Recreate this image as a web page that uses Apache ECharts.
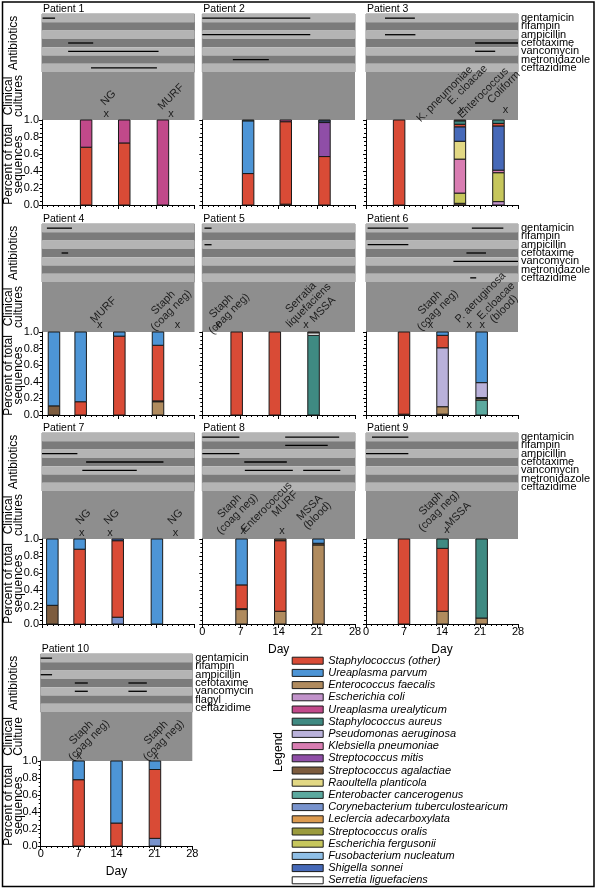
<!DOCTYPE html>
<html><head><meta charset="utf-8">
<script src="https://cdn.jsdelivr.net/npm/echarts@6/dist/echarts.min.js"></script>
<style>html,body{margin:0;padding:0;background:#fff}#c{width:598px;height:890px}</style>
</head><body><div id="c"></div><script>
// ---------- DATA ----------
const species = ['Staphylococcus (other)','Ureaplasma parvum','Enterococcus faecalis','Escherichia coli','Ureaplasma urealyticum','Staphylococcus aureus','Pseudomonas aeruginosa','Klebsiella pneumoniae','Streptococcus mitis','Streptococcus agalactiae','Raoultella planticola','Enterobacter cancerogenus','Corynebacterium tuberculostearicum','Leclercia adecarboxylata','Streptococcus oralis','Escherichia fergusonii','Fusobacterium nucleatum','Shigella sonnei','Serretia liguefaciens'];
const speciesColors = ['#d94b36','#4d95d6','#b08b5e','#c293cb','#c1498a','#3f8a82','#b9b1da','#d97db2','#8f4ea7','#7d5c3e','#e2d884','#5ba99f','#7893cd','#dc9a4f','#9b9b3d','#c6c65c','#8fbfe7','#4669b8','#ffffff'];
const antibiotics = ['gentamicin','rifampin','ampicillin','cefotaxime','vancomycin','metronidazole','ceftazidime'];
const antibiotics10 = ['gentamicin','rifampin','ampicillin','cefotaxime','vancomycin','flagyl','ceftazidime'];
const dayTicks = [0,7,14,21,28];
const fracTicks = [0,0.2,0.4,0.6,0.8,1.0];

// antibiotic courses: [antibiotic row, start day, end day]
const p1Abx = [[0,0.1,2.4],[3,4.8,9.4],[4,4.8,21.4],[6,9.0,21.1]];
const p2Abx = [[0,0,19.8],[2,0,19.8],[5,5.6,12.2]];
const p3Abx = [[0,3.5,9.0],[2,3.5,9.1],[3,20.1,28],[4,20.1,23.8]];
const p4Abx = [[0,0.9,5.5],[3,3.6,4.8]];
const p5Abx = [[0,0.4,1.7],[2,0.4,1.7]];
const p6Abx = [[0,0.3,7.8],[0,19.5,25.3],[2,0.3,7.8],[3,18.5,22.1],[4,16.1,28],[6,19.2,20.3]];
const p7Abx = [[2,0,6.5],[3,8.1,22.3],[4,7.4,17.4]];
const p8Abx = [[0,0,6.8],[0,15.2,25.1],[1,15.2,23.0],[2,0,6.8],[3,7.7,15.5],[4,7.8,16.6],[4,18.5,25.3]];
const p9Abx = [[0,1.1,7.8],[2,0,7.8]];
const p10Abx = [[0,0,2.1],[2,0,2.1],[3,6.3,8.7],[3,16.2,19.6],[4,6.3,8.7],[4,16.2,19.6]];

// clinical cultures: days of culture (x marks) and result texts
const p1CultureDays = [11.8,23.7];  const p1CultureText = ['NG','MURF'];
const p2CultureDays = [];           const p2CultureText = [];
const p3CultureDays = [17.6,25.7];  const p3CultureText = ['K. pneumoniae','E. cloacae','Enterococcus','Coliform'];
const p4CultureDays = [10.6,24.9];  const p4CultureText = ['MURF','Staph\n(coag neg)'];
const p5CultureDays = [2.9,19.0];   const p5CultureText = ['Staph\n(coag neg)','Serratia\nliquefaciens','MSSA'];
const p6CultureDays = [11.9,19.0,21.4]; const p6CultureText = ['Staph\n(coag neg)','P. aeruginosa','E.cloacae\n(blood)'];
const p7CultureDays = [7.3,12.5,24.5]; const p7CultureText = ['NG','NG','NG'];
const p8CultureDays = [7.5,14.6];   const p8CultureText = ['Staph\n(coag neg)','Enterococcus','MURF','MSSA\n(blood)'];
const p9CultureDays = [14.9];       const p9CultureText = ['Staph\n(coag neg)','MSSA'];
const p10CultureDays = [7.1,21.3];  const p10CultureText = ['Staph\n(coag neg)','Staph\n(coag neg)'];

// samples: [day, [[species index, fraction], ...] listed bottom to top]
const p1Bars = [[8.1,[[0,0.68],[4,0.32]]],[15.1,[[0,0.73],[4,0.27]]],[22.2,[[4,1.0]]]];
const p2Bars = [[8.4,[[0,0.37],[1,0.62],[5,0.01]]],[15.3,[[9,0.01],[0,0.97],[4,0.02]]],[22.4,[[0,0.57],[8,0.40],[17,0.02],[1,0.01]]]];
const p3Bars = [[6.1,[[0,1.0]]],[17.3,[[9,0.02],[15,0.12],[7,0.40],[10,0.21],[17,0.17],[0,0.03],[5,0.04],[9,0.01]]],[24.4,[[3,0.04],[15,0.34],[7,0.03],[17,0.52],[0,0.03],[5,0.04]]]];
const p4Bars = [[2.2,[[9,0.11],[1,0.89]]],[7.1,[[0,0.16],[1,0.84]]],[14.2,[[0,0.95],[1,0.05]]],[21.3,[[2,0.16],[9,0.01],[0,0.67],[1,0.16]]]];
const p5Bars = [[6.3,[[0,1.0]]],[13.3,[[0,1.0]]],[20.4,[[5,0.96],[18,0.03],[9,0.01]]]];
const p6Bars = [[7.0,[[9,0.01],[0,0.99]]],[14.1,[[9,0.01],[2,0.09],[6,0.71],[0,0.15],[1,0.04]]],[21.3,[[11,0.18],[2,0.02],[9,0.01],[6,0.18],[1,0.61]]]];
const p7Bars = [[1.9,[[9,0.22],[1,0.78]]],[6.9,[[0,0.88],[1,0.12]]],[13.9,[[12,0.08],[0,0.90],[17,0.02]]],[21.1,[[1,1.0]]]];
const p8Bars = [[7.2,[[2,0.17],[14,0.01],[0,0.28],[1,0.54]]],[14.3,[[2,0.15],[0,0.83],[9,0.02]]],[21.3,[[2,0.93],[9,0.02],[1,0.05]]]];
const p9Bars = [[7.0,[[0,1.0]]],[14.1,[[2,0.15],[0,0.74],[5,0.11]]],[21.3,[[2,0.07],[5,0.93]]]];
const p10Bars = [[7.0,[[0,0.78],[1,0.22]]],[14.0,[[0,0.27],[1,0.73]]],[21.1,[[12,0.09],[0,0.81],[1,0.10]]]];

// ---------- LAYOUT (annotation placement, not data) ----------
const p1TextAt = [[12.2,0.46],[23.7,0.48]];
const p2TextAt = [];
const p3TextAt = [[14.5,0.54],[18.7,0.73],[21.6,0.56],[25.4,0.68]];
const p4TextAt = [[11.3,0.44],[23.0,0.51]];
const p5TextAt = [[4.2,0.44],[18.8,0.61],[22.1,0.45]];
const p6TextAt = [[12.5,0.51],[21.1,0.69],[24.7,0.54]];
const p7TextAt = [[7.6,0.46],[12.8,0.46],[24.5,0.46]];
const p8TextAt = [[5.7,0.6],[11.8,0.66],[15.2,0.73],[20.4,0.57]];
const p9TextAt = [[12.7,0.66],[17.0,0.5]];
const p10TextAt = [[8.2,0.5],[22.0,0.5]];

const FONT = '"Liberation Sans", Arial, sans-serif';
const BAR_W = 11.5;
const colX = [[42,194.5],[202.3,355],[366,518]];
const rowY = [[14,72,120,205],[224,282,332,415],[433,491,539,624],[654,712,761,846]];

const patients = [
 {title:'Patient 1',col:0,row:0,abx:p1Abx,cd:p1CultureDays,ct:p1CultureText,at:p1TextAt,mk:0.125,bars:p1Bars},
 {title:'Patient 2',col:1,row:0,abx:p2Abx,cd:p2CultureDays,ct:p2CultureText,at:p2TextAt,mk:0.13,bars:p2Bars},
 {title:'Patient 3',col:2,row:0,abx:p3Abx,cd:p3CultureDays,ct:p3CultureText,at:p3TextAt,mk:0.21,bars:p3Bars},
 {title:'Patient 4',col:0,row:1,abx:p4Abx,cd:p4CultureDays,ct:p4CultureText,at:p4TextAt,mk:0.14,bars:p4Bars},
 {title:'Patient 5',col:1,row:1,abx:p5Abx,cd:p5CultureDays,ct:p5CultureText,at:p5TextAt,mk:0.14,bars:p5Bars},
 {title:'Patient 6',col:2,row:1,abx:p6Abx,cd:p6CultureDays,ct:p6CultureText,at:p6TextAt,mk:0.14,bars:p6Bars},
 {title:'Patient 7',col:0,row:2,abx:p7Abx,cd:p7CultureDays,ct:p7CultureText,at:p7TextAt,mk:0.13,bars:p7Bars},
 {title:'Patient 8',col:1,row:2,abx:p8Abx,cd:p8CultureDays,ct:p8CultureText,at:p8TextAt,mk:0.17,bars:p8Bars,xl:true},
 {title:'Patient 9',col:2,row:2,abx:p9Abx,cd:p9CultureDays,ct:p9CultureText,at:p9TextAt,mk:0.19,bars:p9Bars,xl:true},
 {title:'Patient 10',col:0,row:3,x:[40.7,192.3],names:antibiotics10,showNames:true,abx:p10Abx,cd:p10CultureDays,ct:p10CultureText,at:p10TextAt,mk:0.1,bars:p10Bars,xl:true,clinName:'Clinical\nCulture'}
];

function segments(bars){
  const out=[];
  bars.forEach(([day,comp])=>{ let y=0; comp.forEach(([s,f])=>{ out.push([day,y,Math.min(1,y+f),s]); y+=f; }); });
  return out;
}

const grid=[], xAxis=[], yAxis=[], series=[], graphic=[];
const blk = {color:'#000'};
function vtext(x,y,text,size,lh){
  return {type:'text',x:x,y:y,rotation:Math.PI/2,silent:true,
    style:{text:text,font:size+'px '+FONT,fontSize:size,fontFamily:FONT,align:'center',verticalAlign:'middle',textAlign:'center',textVerticalAlign:'middle',fill:'#000',lineHeight:lh}};
}
function htext(x,y,text,size){
  return {type:'text',x:x,y:y,silent:true,
    style:{text:text,font:size+'px '+FONT,fontSize:size,fontFamily:FONT,align:'left',verticalAlign:'middle',textAlign:'left',textVerticalAlign:'middle',fill:'#000'}};
}

patients.forEach((p)=>{
  const [x0,x1] = p.x || colX[p.col];
  const [a,c,b,e] = rowY[p.row];
  const gi = grid.length;
  const w = x1-x0;
  // antibiotic band grid
  grid.push({left:x0,top:a,width:w,height:c-a,show:true,borderWidth:0.8,borderColor:'#6a6a6a',backgroundColor:'transparent',outerBoundsMode:'none'});
  xAxis.push({gridIndex:gi,type:'value',min:0,max:28,show:false});
  yAxis.push({gridIndex:gi,type:'category',data:p.names||antibiotics,inverse:true,position:'right',
    axisLine:{show:false},axisTick:{show:false,interval:0},
    axisLabel:{show:!!(p.col===2||p.showNames),interval:0,fontSize:11,lineHeight:9,color:'#000',margin:3,fontFamily:FONT},
    splitLine:{show:false},splitArea:{show:true,interval:0,areaStyle:{color:['#b4b4b4','#7b7b7b']}}});
  // clinical culture grid
  grid.push({left:x0,top:c,width:w,height:b-c,show:true,backgroundColor:'#8e8e8e',borderWidth:0,outerBoundsMode:'none'});
  xAxis.push({gridIndex:gi+1,type:'value',min:0,max:28,show:false});
  yAxis.push({gridIndex:gi+1,type:'value',min:0,max:1,show:false});
  // bar grid
  grid.push({left:x0,top:b,width:w,height:e-b,show:false,outerBoundsMode:'none'});
  xAxis.push({gridIndex:gi+2,type:'value',min:dayTicks[0],max:dayTicks[dayTicks.length-1],interval:7,
    axisLine:{show:true,lineStyle:{color:'#000',width:1}},
    axisTick:{show:true,length:4,lineStyle:blk},
    minorTick:{show:true,splitNumber:7,length:2,lineStyle:blk},
    axisLabel:{show:!!p.xl,fontSize:11,color:'#000',margin:2,fontFamily:FONT,hideOverlap:false},
    splitLine:{show:false},minorSplitLine:{show:false},
    name:p.xl?'Day':'',nameLocation:'middle',nameGap:20,nameTextStyle:{fontSize:12,color:'#000',fontFamily:FONT}});
  yAxis.push({gridIndex:gi+2,type:'value',min:fracTicks[0],max:fracTicks[fracTicks.length-1],interval:0.2,
    axisLine:{show:true,lineStyle:{color:'#000',width:1}},
    axisTick:{show:true,length:3,lineStyle:blk},
    minorTick:{show:true,splitNumber:4,length:2,lineStyle:blk},
    axisLabel:{show:p.col===0,fontSize:11,color:'#000',margin:3,fontFamily:FONT,formatter:v=>v.toFixed(1)},
    splitLine:{show:false},minorSplitLine:{show:false}});

  // antibiotic course lines
  series.push({type:'custom',xAxisIndex:gi,yAxisIndex:gi,silent:true,
    data:p.abx.map(r=>[r[1],r[2],r[0]]),encode:{x:[0,1],y:2},
    renderItem:(params,api)=>{
      const s=api.coord([api.value(0),api.value(2)]), t=api.coord([api.value(1),api.value(2)]);
      return {type:'line',shape:{x1:s[0],y1:s[1],x2:t[0],y2:t[1]},style:{stroke:'#000',lineWidth:1.3}};
    }});
  // culture marks
  series.push({type:'scatter',xAxisIndex:gi+1,yAxisIndex:gi+1,silent:true,symbolSize:1,
    itemStyle:{color:'rgba(0,0,0,0)'},
    data:p.cd.map(d=>[d,p.mk]),
    label:{show:true,position:'inside',formatter:'x',fontSize:11,color:'#000',fontFamily:FONT}});
  // culture result texts
  series.push({type:'scatter',xAxisIndex:gi+1,yAxisIndex:gi+1,silent:true,symbolSize:1,
    itemStyle:{color:'rgba(0,0,0,0)'},
    data:p.at.map((t,k)=>[t[0],t[1],p.ct[k]]),
    label:{show:true,position:'inside',formatter:q=>q.data[2],rotate:45,fontSize:11,lineHeight:11,
      align:'center',verticalAlign:'middle',color:'#000',fontFamily:FONT}});
  // stacked sample bars
  series.push({type:'custom',xAxisIndex:gi+2,yAxisIndex:gi+2,silent:true,
    data:segments(p.bars),encode:{x:0,y:[1,2]},
    renderItem:(params,api)=>{
      const xc=api.coord([api.value(0),0])[0];
      const yTop=api.coord([0,api.value(2)])[1], yBot=api.coord([0,api.value(1)])[1];
      return {type:'rect',shape:{x:xc-BAR_W/2,y:yTop,width:BAR_W,height:yBot-yTop},
        style:{fill:speciesColors[api.value(3)],stroke:'#1a1a1a',lineWidth:1}};
    }});

  // titles
  graphic.push(htext(x0+1,a-4.5,p.title,10.5));
  if(p.col===0){
    graphic.push(vtext(14,(a+c)/2,'Antibiotics',12,12));
    graphic.push(vtext(14,(c+b)/2,p.clinName||'Clinical\ncultures',12,10));
    graphic.push(vtext(14,(b+e)/2+2,'Percent of total\nsequences',12,10));
  }
});

// legend series (no data; give the legend its swatches)
const lastBar = grid.length-1;
species.forEach((s,i)=>{
  series.push({type:'bar',name:s,xAxisIndex:lastBar,yAxisIndex:lastBar,data:[],
    itemStyle:{color:speciesColors[i],borderColor:'#1a1a1a',borderWidth:1}});
});

graphic.push(vtext(279,752,'Legend',12,12));
graphic.push({type:'rect',silent:true,z:100,shape:{x:2.5,y:2,width:591.5,height:884.5},style:{fill:'transparent',stroke:'#000',lineWidth:1.5}});

const chart = echarts.init(document.getElementById('c'),null,{renderer:'canvas'});
chart.setOption({
  animation:false,
  backgroundColor:'#fff',
  textStyle:{fontFamily:FONT},
  grid, xAxis, yAxis, series, graphic,
  legend:{orient:'vertical',left:291.7,top:654.7,padding:0,itemWidth:31,itemHeight:7,itemGap:0.2,icon:'rect',
    selectedMode:false,data:species,
    itemStyle:{borderColor:'#1a1a1a',borderWidth:1},
    textStyle:{fontSize:11,fontStyle:'italic',color:'#000',fontFamily:FONT,lineHeight:12}},
  tooltip:{show:false}
});
</script></body></html>
